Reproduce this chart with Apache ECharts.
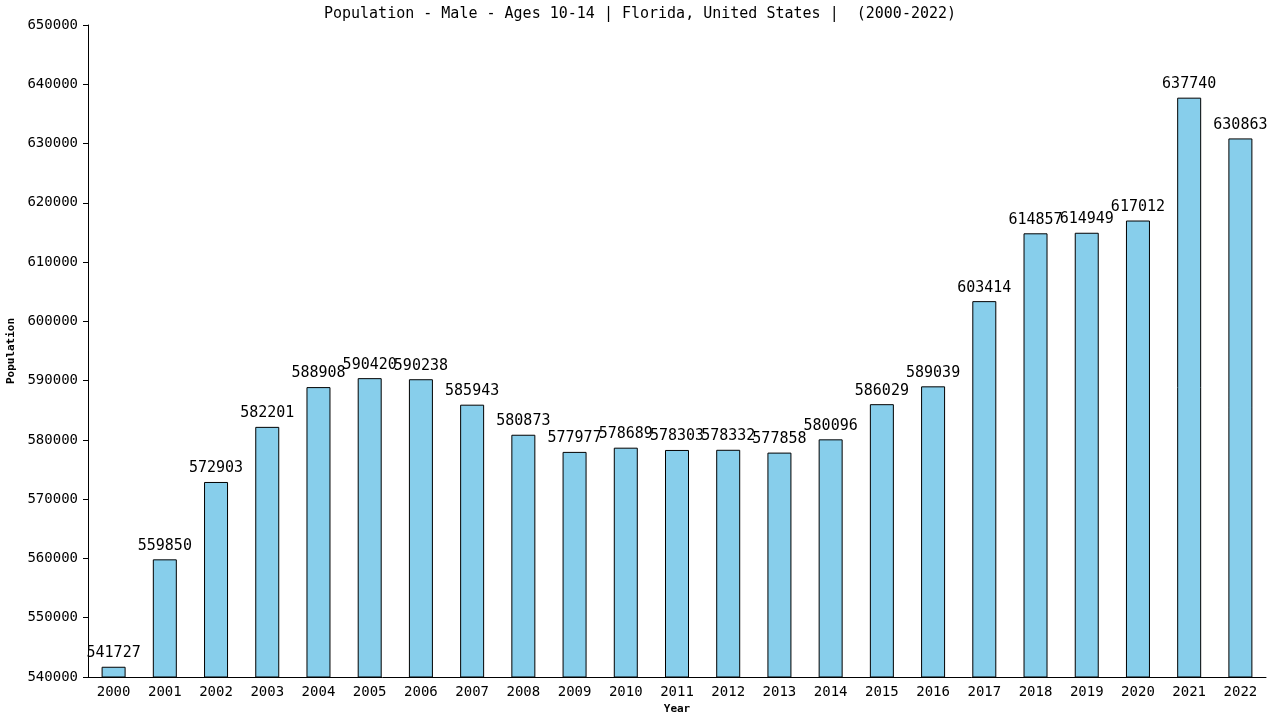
<!DOCTYPE html>
<html>
<head>
<meta charset="utf-8">
<title>Population - Male - Ages 10-14 | Florida</title>
<script src="https://cdn.jsdelivr.net/npm/echarts@6/dist/echarts.min.js"></script>
<style>
  html, body { margin: 0; padding: 0; background: #fff; }
  #main { width: 1280px; height: 720px; }
</style>
</head>
<body>
<div id="main"></div>
<script>
// categories and values
const years = ['2000', '2001', '2002', '2003', '2004', '2005', '2006', '2007',
    '2008', '2009', '2010', '2011', '2012', '2013', '2014', '2015', '2016',
    '2017', '2018', '2019', '2020', '2021', '2022'];

const population = [541727, 559850, 572903, 582201, 588908, 590420, 590238,
    585943, 580873, 577977, 578689, 578303, 578332, 577858, 580096, 586029,
    589039, 603414, 614857, 614949, 617012, 637740, 630863];

const yMin = 540000;
const yMax = 650000;
const yStep = 10000;

var myChart = echarts.init(document.getElementById('main'));
var font = 'DejaVu Sans Mono';

var option = {
    backgroundColor: '#fff',
    animation: false,
    title: {
        text: 'Population - Male - Ages 10-14 | Florida, United States |  (2000-2022)',
        left: 'center',
        top: 2,
        textStyle: { fontFamily: font, fontSize: 15, fontWeight: 'normal', color: '#000' }
    },
    grid: { left: 88, right: 14, top: 25, bottom: 43, outerBoundsMode: 'none', containLabel: false },
    xAxis: {
        type: 'category',
        data: years,
        name: 'Year',
        nameLocation: 'middle',
        nameGap: 27,
        nameTextStyle: { fontFamily: font, fontSize: 11, fontWeight: 'bold', color: '#000' },
        axisLine: { lineStyle: { color: '#000' } },
        axisTick: { show: false },
        axisLabel: { fontFamily: font, fontSize: 14, color: '#000', margin: 8 }
    },
    yAxis: {
        type: 'value',
        min: yMin,
        max: yMax,
        interval: yStep,
        name: 'Population',
        nameLocation: 'middle',
        nameGap: 71,
        nameTextStyle: { fontFamily: font, fontSize: 11, fontWeight: 'bold', color: '#000' },
        axisLine: { show: true, lineStyle: { color: '#000' } },
        axisTick: { show: true, length: 5, lineStyle: { color: '#000' } },
        axisLabel: {
            fontFamily: font, fontSize: 14, color: '#000', margin: 10,
            formatter: function (v) { return String(v); }
        },
        splitLine: { show: false }
    },
    series: [{
        type: 'bar',
        data: population,
        barWidth: 24,
        itemStyle: { color: '#87ceeb', borderColor: '#000', borderWidth: 1 },
        label: {
            show: true,
            position: 'top',
            distance: 6,
            fontFamily: font,
            fontSize: 15,
            color: '#000'
        }
    }]
};

myChart.setOption(option);
</script>
</body>
</html>
